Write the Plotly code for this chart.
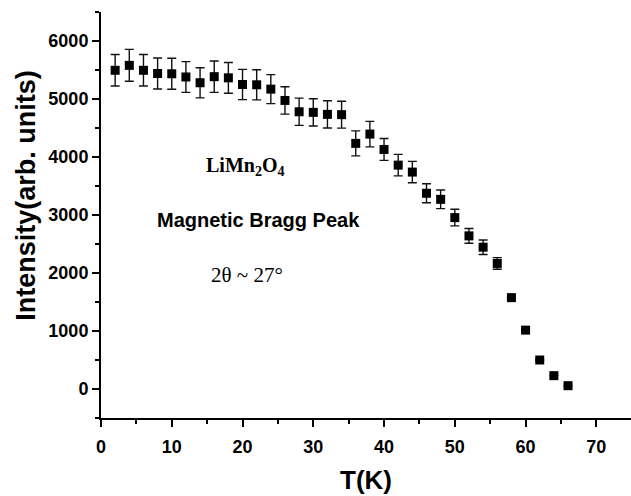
import plotly.graph_objects as go

# Temperature (K)
temperature = [2, 4, 6, 8, 10, 12, 14, 16, 18, 20, 22, 24, 26, 28, 30, 32, 34,
               36, 38, 40, 42, 44, 46, 48, 50, 52, 54, 56, 58, 60, 62, 64, 66]
# Integrated intensity of the magnetic Bragg peak (arb. units)
intensity = [5495, 5580, 5495, 5440, 5435, 5380, 5280, 5385, 5365, 5250, 5245,
             5170, 4975, 4780, 4770, 4735, 4730, 4235, 4395, 4130, 3860, 3740,
             3375, 3270, 2955, 2640, 2445, 2165, 1575, 1015, 500, 230, 57]
# Error bar half-widths
intensity_err = [272, 275, 272, 268, 268, 265, 260, 270, 265, 260, 260,
                 250, 235, 235, 235, 235, 232, 215, 220, 188, 186, 185,
                 165, 160, 143, 128, 125, 100, 0, 0, 0, 0, 0]

x_ticks = [0, 10, 20, 30, 40, 50, 60, 70]
y_ticks = [0, 1000, 2000, 3000, 4000, 5000, 6000]

sans = "Liberation Sans, Arial, sans-serif"
serif = "Liberation Serif, Times New Roman, serif"

fig = go.Figure()
fig.add_trace(go.Scatter(
    x=temperature, y=intensity,
    mode="markers",
    marker=dict(symbol="square", size=9, color="black"),
    error_y=dict(type="data", array=intensity_err, visible=True,
                 color="#111111", thickness=1.4, width=4.5),
    showlegend=False,
))

# Sample / reflection labels inside the plot
fig.add_annotation(x=20.4, y=3830, xref="x", yref="y", showarrow=False,
                   text="LiMn<sub>2</sub>O<sub>4</sub>",
                   font=dict(family=serif, size=20, color="black", weight="bold"))
fig.add_annotation(x=22.3, y=2910, xref="x", yref="y", showarrow=False,
                   text="Magnetic Bragg Peak",
                   font=dict(family=sans, size=20, color="black", weight="bold"))
fig.add_annotation(x=20.7, y=1960, xref="x", yref="y", showarrow=False,
                   text="2θ ~ 27°",
                   font=dict(family=serif, size=21, color="black"))

# Y-axis title, placed slightly above the middle of the axis
fig.add_annotation(x=-0.143, y=0.548, xref="paper", yref="paper",
                   xanchor="center", yanchor="middle",
                   showarrow=False, textangle=-90,
                   text="Intensity(arb. units)",
                   font=dict(family=sans, size=27, color="black", weight="bold"))

fig.update_layout(
    width=631, height=496,
    margin=dict(l=101, r=0, t=12, b=78),
    paper_bgcolor="white", plot_bgcolor="white",
    font=dict(family=sans, color="black"),
    xaxis=dict(
        range=[0, 74.9], tickvals=x_ticks, ticktext=[str(v) for v in x_ticks],
        showgrid=False, zeroline=False,
        showline=True, linecolor="black", linewidth=2,
        ticks="outside", ticklen=7, tickwidth=2, tickcolor="black",
        ticklabelstandoff=4,
        minor=dict(dtick=5, tick0=0, ticks="outside", ticklen=4,
                   tickwidth=1.5, tickcolor="black"),
        tickfont=dict(family=sans, size=18, color="black", weight="bold"),
        title=dict(text="T(K)", standoff=15,
                   font=dict(family=sans, size=26, color="black", weight="bold")),
    ),
    yaxis=dict(
        range=[-500, 6500], tickvals=y_ticks, ticktext=[str(v) for v in y_ticks],
        showgrid=False, zeroline=False,
        showline=True, linecolor="black", linewidth=2,
        ticks="outside", ticklen=7, tickwidth=2, tickcolor="black",
        minor=dict(dtick=500, tick0=0, ticks="outside", ticklen=4,
                   tickwidth=1.5, tickcolor="black"),
        tickfont=dict(family=sans, size=18, color="black", weight="bold"),
    ),
)

fig.write_html("out.html")
